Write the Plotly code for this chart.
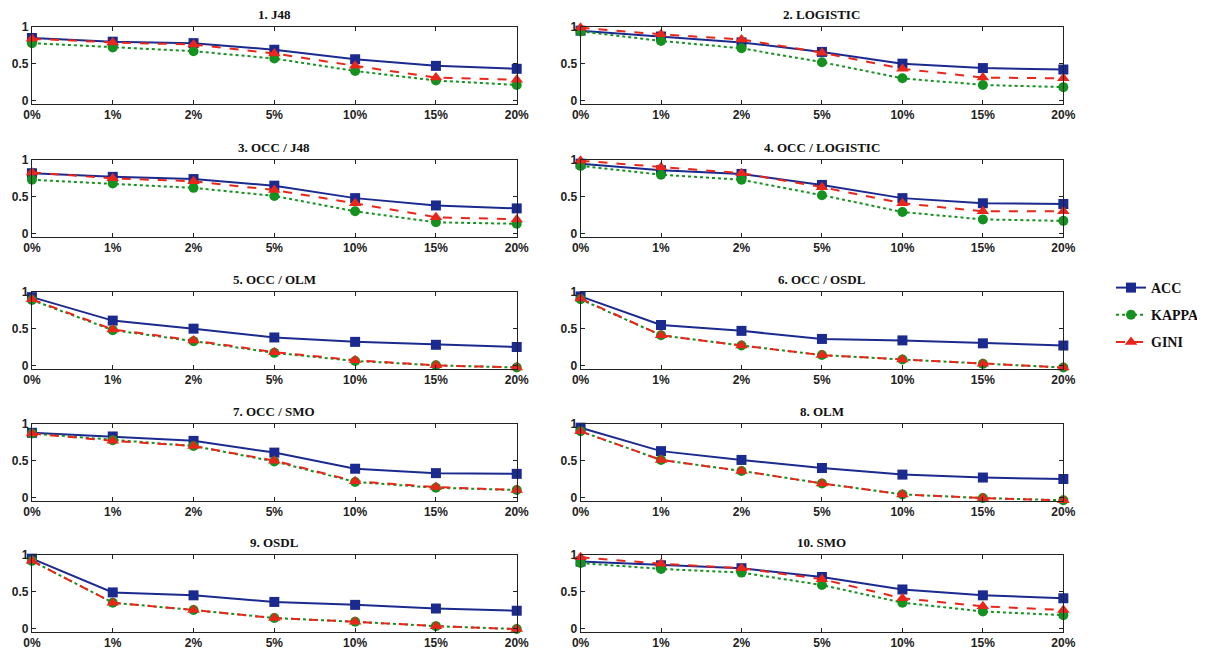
import plotly.graph_objects as go

noise_levels = ["0%", "1%", "2%", "5%", "10%", "15%", "20%"]
panel_titles = ["1. J48", "2. LOGISTIC", "3. OCC / J48", "4. OCC / LOGISTIC",
                "5. OCC / OLM", "6. OCC / OSDL", "7. OCC / SMO", "8. OLM",
                "9. OSDL", "10. SMO"]

j48_acc = [0.85, 0.80, 0.78, 0.69, 0.56, 0.47, 0.43]
j48_kappa = [0.78, 0.72, 0.67, 0.57, 0.40, 0.27, 0.21]
j48_gini = [0.84, 0.79, 0.76, 0.64, 0.47, 0.31, 0.28]

logistic_acc = [0.95, 0.87, 0.79, 0.66, 0.50, 0.44, 0.42]
logistic_kappa = [0.94, 0.81, 0.71, 0.52, 0.30, 0.21, 0.18]
logistic_gini = [0.99, 0.90, 0.83, 0.65, 0.43, 0.31, 0.30]

occ_j48_acc = [0.82, 0.77, 0.74, 0.65, 0.48, 0.38, 0.34]
occ_j48_kappa = [0.73, 0.68, 0.62, 0.51, 0.30, 0.15, 0.13]
occ_j48_gini = [0.83, 0.75, 0.71, 0.59, 0.41, 0.22, 0.19]

occ_logistic_acc = [0.95, 0.86, 0.81, 0.66, 0.48, 0.41, 0.40]
occ_logistic_kappa = [0.92, 0.80, 0.73, 0.52, 0.29, 0.19, 0.17]
occ_logistic_gini = [0.99, 0.90, 0.82, 0.63, 0.41, 0.30, 0.30]

occ_olm_acc = [0.93, 0.61, 0.50, 0.38, 0.32, 0.28, 0.25]
occ_olm_kappa = [0.89, 0.48, 0.33, 0.17, 0.06, 0.00, -0.03]
occ_olm_gini = [0.90, 0.49, 0.34, 0.18, 0.07, 0.00, -0.03]

occ_osdl_acc = [0.94, 0.55, 0.47, 0.36, 0.34, 0.30, 0.27]
occ_osdl_kappa = [0.90, 0.41, 0.27, 0.14, 0.08, 0.02, -0.03]
occ_osdl_gini = [0.91, 0.41, 0.27, 0.14, 0.08, 0.02, -0.03]

occ_smo_acc = [0.88, 0.83, 0.77, 0.61, 0.39, 0.33, 0.32]
occ_smo_kappa = [0.87, 0.78, 0.70, 0.49, 0.21, 0.13, 0.10]
occ_smo_gini = [0.87, 0.77, 0.70, 0.50, 0.22, 0.14, 0.10]

olm_acc = [0.95, 0.63, 0.51, 0.40, 0.31, 0.27, 0.25]
olm_kappa = [0.90, 0.51, 0.36, 0.19, 0.04, -0.01, -0.04]
olm_gini = [0.90, 0.51, 0.36, 0.19, 0.04, -0.01, -0.04]

osdl_acc = [0.95, 0.49, 0.45, 0.36, 0.32, 0.27, 0.24]
osdl_kappa = [0.92, 0.35, 0.25, 0.14, 0.09, 0.03, -0.01]
osdl_gini = [0.92, 0.35, 0.25, 0.14, 0.09, 0.03, -0.01]

smo_acc = [0.91, 0.86, 0.82, 0.70, 0.53, 0.45, 0.41]
smo_kappa = [0.89, 0.81, 0.76, 0.59, 0.35, 0.23, 0.18]
smo_gini = [0.97, 0.88, 0.82, 0.67, 0.41, 0.30, 0.25]

panels = [
    (j48_acc, j48_kappa, j48_gini),
    (logistic_acc, logistic_kappa, logistic_gini),
    (occ_j48_acc, occ_j48_kappa, occ_j48_gini),
    (occ_logistic_acc, occ_logistic_kappa, occ_logistic_gini),
    (occ_olm_acc, occ_olm_kappa, occ_olm_gini),
    (occ_osdl_acc, occ_osdl_kappa, occ_osdl_gini),
    (occ_smo_acc, occ_smo_kappa, occ_smo_gini),
    (olm_acc, olm_kappa, olm_gini),
    (osdl_acc, osdl_kappa, osdl_gini),
    (smo_acc, smo_kappa, smo_gini),
]

# page body has an 8px margin: work in screen pixels and shift by OFF
OFF = 8
W, H = 1205 - OFF, 655 - OFF
col_x = [(32, 518), (582, 1066)]
row_top = [27, 160, 292, 424, 555]
box_h = 77

series_style = [
    ("ACC", "#1b2a8f", "solid", "square", 10),
    ("KAPPA", "#15911f", "dot", "circle", 10),
    ("GINI", "#e8261a", "dash", "triangle-up", 11),
]


def px_x(v):
    return (v - OFF) / W


def px_y(v):
    return 1 - (v - OFF) / H


fig = go.Figure()
layout_axes = {}
annotations = []
for i, (title, vals) in enumerate(zip(panel_titles, panels)):
    r, c = divmod(i, 2)
    n = i + 1
    xa = "x" if n == 1 else f"x{n}"
    ya = "y" if n == 1 else f"y{n}"
    for (name, color, dash, symbol, msize), v in zip(series_style, vals):
        fig.add_trace(go.Scatter(
            x=list(range(len(noise_levels))), y=v, name=f"<b>{name}</b>", legendgroup=name,
            mode="lines+markers", xaxis=xa, yaxis=ya,
            line=dict(color=color, width=2, dash=dash),
            marker=dict(symbol=symbol, size=msize, color=color),
            cliponaxis=False, showlegend=(i == 0),
        ))
    x0, x1 = col_x[c]
    top = row_top[r]
    bot = top + box_h
    common = dict(showline=True, linecolor="#222", linewidth=1, mirror="all",
                  ticks="inside", ticklen=4, tickcolor="#222", showgrid=False,
                  zeroline=False, automargin=False,
                  tickfont=dict(family="Liberation Sans", size=12, color="#222", weight="bold"))
    layout_axes[("xaxis" if n == 1 else f"xaxis{n}")] = dict(
        domain=[px_x(x0), px_x(x1)], anchor=ya, range=[0, 6],
        tickmode="array", tickvals=list(range(len(noise_levels))), ticktext=noise_levels,
        **common)
    layout_axes[("yaxis" if n == 1 else f"yaxis{n}")] = dict(
        domain=[px_y(bot), px_y(top)], anchor=xa, range=[-0.05, 1.0],
        tickmode="array", tickvals=[0, 0.5, 1], ticktext=["0", "0.5", "1"],
        **common)
    annotations.append(dict(
        text=f"<b>{title}</b>", x=px_x((x0 + x1) / 2), y=px_y(top - 3),
        xref="paper", yref="paper", xanchor="center", yanchor="bottom",
        showarrow=False, font=dict(family="Liberation Serif", size=13, color="#111")))

fig.update_layout(
    width=W, height=H, margin=dict(l=0, r=0, t=0, b=0),
    paper_bgcolor="white", plot_bgcolor="white",
    annotations=annotations,
    legend=dict(x=px_x(1114), y=px_y(272), xanchor="left", yanchor="top",
                font=dict(family="Liberation Serif", size=14, color="#111"),
                bgcolor="rgba(0,0,0,0)", tracegroupgap=6, itemwidth=30),
    **layout_axes,
)

fig.write_html("out.html")
